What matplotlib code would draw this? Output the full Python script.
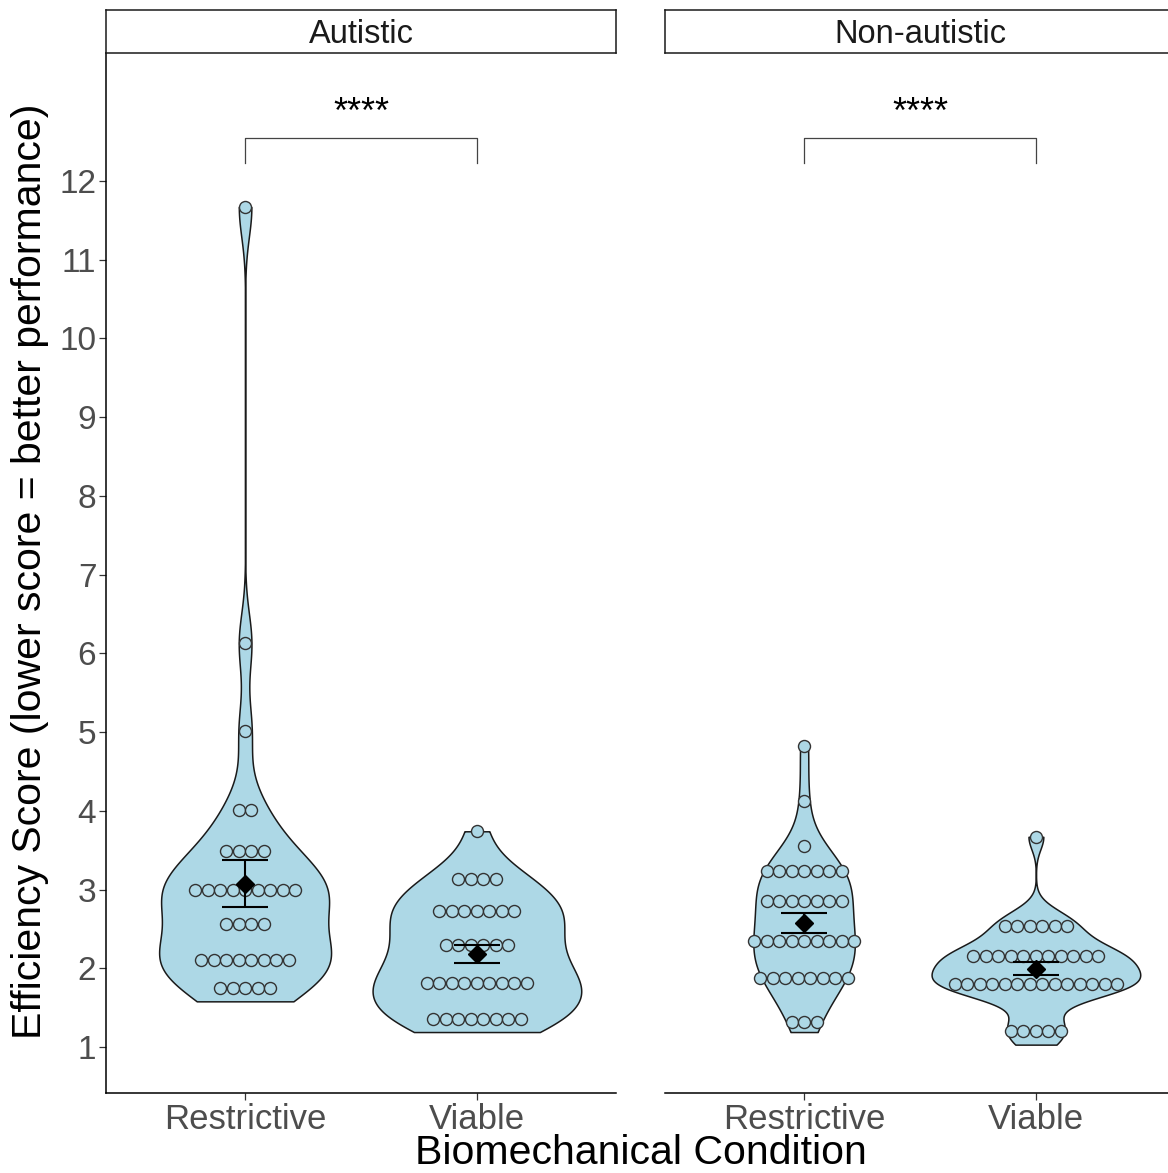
import numpy as np
import matplotlib.pyplot as plt

plt.rcParams['font.family'] = ['Liberation Sans', 'DejaVu Sans']

groups = ["Autistic", "Non-autistic"]
conditions = ["Restrictive", "Viable"]

# efficiency scores (lower = better)
aut_restrictive = [1.58, 1.66, 1.74, 1.83, 1.91,
                   1.96, 2.00, 2.05, 2.10, 2.12, 2.18, 2.20, 2.24,
                   2.42, 2.50, 2.60, 2.70,
                   2.84, 2.88, 2.92, 2.96, 3.00, 3.04, 3.08, 3.12, 3.16,
                   3.36, 3.45, 3.52, 3.62,
                   3.96, 4.06,
                   5.01, 6.13, 11.67]
aut_viable = [1.19, 1.24, 1.28, 1.33, 1.38, 1.42, 1.47, 1.51,
              1.64, 1.68, 1.72, 1.77, 1.81, 1.85, 1.90, 1.94, 1.98,
              2.16, 2.20, 2.26, 2.32, 2.38, 2.42,
              2.60, 2.64, 2.69, 2.73, 2.77, 2.82, 2.86,
              3.04, 3.10, 3.16, 3.22,
              3.74]
non_restrictive = [1.19, 1.30, 1.45,
                   1.72, 1.76, 1.82, 1.86, 1.90, 1.95, 2.00, 2.04,
                   2.18, 2.22, 2.26, 2.30, 2.35, 2.40, 2.44, 2.48, 2.52,
                   2.70, 2.75, 2.80, 2.85, 2.90, 2.95, 3.00,
                   3.10, 3.15, 3.20, 3.24, 3.28, 3.33, 3.38,
                   3.55, 4.13, 4.82]
non_viable = [1.03, 1.12, 1.20, 1.29, 1.38,
              1.64, 1.66, 1.69, 1.71, 1.74, 1.77, 1.79, 1.81, 1.83, 1.86, 1.89, 1.91, 1.94, 1.96,
              2.01, 2.04, 2.07, 2.10, 2.13, 2.15, 2.17, 2.20, 2.23, 2.26, 2.29,
              2.40, 2.45, 2.50, 2.58, 2.63, 2.68,
              3.67]

scores = {
    "Autistic": [aut_restrictive, aut_viable],
    "Non-autistic": [non_restrictive, non_viable],
}
sig_labels = ["****", "****"]
y_ticks = list(range(1, 13))

FILL = "#ADD8E6"
W, H = 1168, 1173
BINW = 0.36
DOT_PX = 12.5     # stacking step
DOT_VIS = 13.4    # drawn dot diameter incl. edge


def bw_nrd0(x):
    x = np.asarray(x)
    q75, q25 = np.percentile(x, [75, 25])
    lo = min(np.std(x, ddof=1), (q75 - q25) / 1.34)
    return 0.9 * lo * len(x) ** -0.2


def kde(x, grid):
    x = np.asarray(x)
    bw = bw_nrd0(x)
    z = (grid[:, None] - x[None, :]) / bw
    return np.exp(-0.5 * z ** 2).sum(axis=1) / (len(x) * bw * np.sqrt(2 * np.pi))


def dot_bins(vals, width):
    # dot-density binning like geom_dotplot
    vals = sorted(vals)
    out = []
    i = 0
    while i < len(vals):
        j = i
        while j < len(vals) and vals[j] < vals[i] + width:
            j += 1
        out.append(((vals[i] + vals[j - 1]) / 2, j - i))
        i = j
    return out


fig = plt.figure(figsize=(W / 100, H / 100), dpi=100)

panel_left = [106, 665]
for k, g in enumerate(groups):
    ax = fig.add_axes([panel_left[k] / W, 1 - 1093 / H, 510 / W, 1040 / H])
    ax.set_xlim(0.4, 2.6)
    ax.set_ylim(0.4157, 13.626)

    dens = []
    for vals in scores[g]:
        grid = np.linspace(min(vals), max(vals), 512)
        dens.append((grid, kde(vals, grid)))
    dmax = max(d.max() for _, d in dens)

    px_x = ax.transData.transform((1, 0))[0] - ax.transData.transform((0, 0))[0]
    dx = DOT_PX / px_x

    for i, vals in enumerate(scores[g]):
        xc = i + 1
        grid, d = dens[i]
        half = d / dmax * 0.45
        ax.fill_betweenx(grid, xc - half, xc + half, facecolor=FILL,
                         edgecolor="#1a1a1a", linewidth=1.1, zorder=1)

        xs, ys = [], []
        for yc, n in dot_bins(vals, BINW):
            for m in range(n):
                xs.append(xc + (m - (n - 1) / 2) * dx)
                ys.append(yc)
        ax.scatter(xs, ys, s=(DOT_VIS * 0.72 - 1.0) ** 2, facecolor=FILL,
                   edgecolor="#333333", linewidth=1.0, zorder=2)

        v = np.asarray(vals)
        mu = v.mean()
        se = v.std(ddof=1) / np.sqrt(len(v))
        ax.vlines(xc, mu - se, mu + se, color="black", linewidth=1.5, zorder=3)
        ax.hlines([mu - se, mu + se], xc - 0.1, xc + 0.1, color="black",
                  linewidth=1.5, zorder=3)
        ax.plot(xc, mu, marker="D", color="black", markersize=9.5, zorder=4)

    # significance bracket
    ax.plot([1, 1, 2, 2], [12.23, 12.55, 12.55, 12.23], color="#444444",
            linewidth=0.9, zorder=2)
    ax.text(1.5, 12.74, sig_labels[k], ha="center", va="baseline",
            fontsize=26, color="black")

    ax.set_xticks([1, 2])
    ax.set_xticklabels(conditions, fontsize=25, color="#4D4D4D")
    ax.set_yticks(y_ticks)
    for s in ["top", "right"]:
        ax.spines[s].set_visible(False)
    ax.spines["bottom"].set_linewidth(1.1)
    ax.spines["left"].set_linewidth(1.1)
    ax.tick_params(axis="both", length=5, width=0.9, color="#333333", pad=2)
    if k == 0:
        ax.set_yticklabels([str(t) for t in y_ticks], fontsize=24, color="#4D4D4D")
    else:
        ax.spines["left"].set_visible(False)
        ax.tick_params(axis="y", left=False, labelleft=False)

    # facet strip
    sax = fig.add_axes([panel_left[k] / W, 1 - 53 / H, 510 / W, 43 / H])
    sax.set_xticks([])
    sax.set_yticks([])
    for s in sax.spines.values():
        s.set_linewidth(1.1)
        s.set_color("#1a1a1a")
    sax.text(0.5, 0.42, g, ha="center", va="center", fontsize=23.5,
             color="#1A1A1A", transform=sax.transAxes)

fig.text(641 / W, 1 - 1164 / H, "Biomechanical Condition", ha="center",
         va="baseline", fontsize=29.5, color="black")
fig.text(30 / W, 1 - 571 / H, "Efficiency Score (lower score = better performance)",
         ha="center", va="center", rotation=90, fontsize=29.5, color="black")

fig.savefig("out.png", dpi=100)
